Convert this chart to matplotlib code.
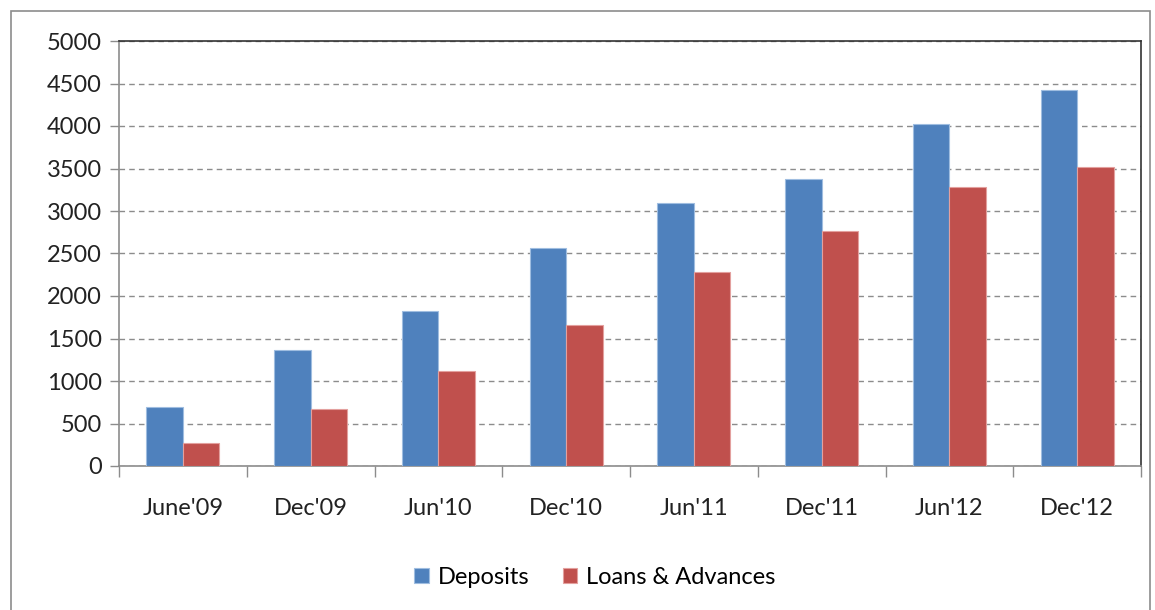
import numpy as np
import matplotlib.pyplot as plt
from matplotlib.patches import Rectangle

categorias = ["June'09", "Dec'09", "Jun'10", "Dec'10", "Jun'11", "Dec'11", "Jun'12", "Dec'12"]
depositos = [700, 1365, 1825, 2565, 3095, 3375, 4025, 4420]
prestamos = [270, 670, 1120, 1660, 2280, 2765, 3280, 3520]

plt.rcParams['font.family'] = ['Lato', 'DejaVu Sans']

fig = plt.figure(figsize=(11.55, 6.10), dpi=100)
# borde exterior del gráfico
fig.patches.append(Rectangle((11/1155, -0.05), 1139/1155, 1.05 - 11/610,
                             transform=fig.transFigure, fill=False,
                             edgecolor='#8c8c8c', linewidth=1.2))
ax = fig.add_axes([119/1155, 1 - 466/610, 1022/1155, 425/610])

x = np.arange(len(categorias))
ancho = 0.286
ax.bar(x - ancho/2, depositos, ancho, color='#4f81bd', edgecolor='#9fbde0', linewidth=0.8, label='Deposits', zorder=3)
ax.bar(x + ancho/2, prestamos, ancho, color='#c0504d', edgecolor='#e3a09e', linewidth=0.8, label='Loans & Advances', zorder=3)

ax.set_xlim(-0.5, len(categorias) - 0.5)
ax.set_ylim(0, 5000)
ax.set_yticks(np.arange(0, 5001, 500))
ax.yaxis.grid(True, linestyle=(0, (4, 3)), color='#8c8c8c', linewidth=1)
ax.set_axisbelow(True)

ax.set_xticks(x)
ax.set_xticklabels(categorias)
ax.set_xticks(np.arange(-0.5, len(categorias)), minor=True)
ax.tick_params(axis='x', which='major', length=0, pad=23, labelsize=17, labelcolor='#222222')
ax.tick_params(axis='x', which='minor', length=8, width=1, color='#8c8c8c')
ax.tick_params(axis='y', length=6.5, width=1, color='#8c8c8c', labelsize=17, labelcolor='#222222', pad=6)

for lado in ['left', 'bottom']:
    ax.spines[lado].set_color('#8c8c8c')
    ax.spines[lado].set_linewidth(1.2)
for lado in ['top', 'right']:
    ax.spines[lado].set_color('#333333')
    ax.spines[lado].set_linewidth(1.2)

fig.legend(loc='center', bbox_to_anchor=(595/1155, 1 - 577/610), ncol=2, frameon=False,
           fontsize=17, handlelength=0.6, handleheight=0.6, columnspacing=1.4, handletextpad=0.4)

fig.savefig('out.png', dpi=100)
